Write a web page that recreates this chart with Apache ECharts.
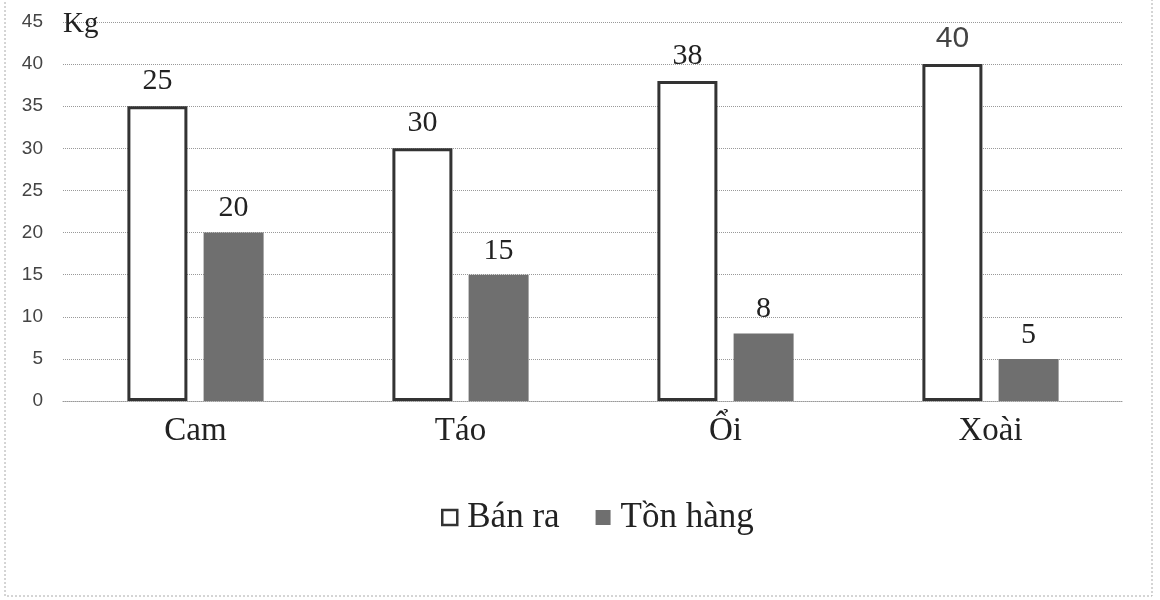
<!DOCTYPE html>
<html>
<head>
<meta charset="utf-8">
<script src="https://cdn.jsdelivr.net/npm/echarts@6/dist/echarts.min.js"></script>
<style>
  html, body { margin: 0; padding: 0; background: #fff; }
  #chart { width: 1160px; height: 600px; }
</style>
</head>
<body>
<div id="chart"></div>
<script>
// data
var categories = ['Cam', 'Táo', 'Ổi', 'Xoài'];
var banRa = [35, 30, 38, 40];           // bar heights as drawn
var banRaLabels = ['25', '30', '38', '40']; // numbers printed above them
var tonHang = [20, 15, 8, 5];
var yTicks = [0, 5, 10, 15, 20, 25, 30, 35, 40, 45];

var serif = '"Liberation Serif", "DejaVu Serif", serif';
var sans = '"Liberation Sans", Arial, sans-serif';

var chartDom = document.getElementById('chart');
var myChart = echarts.init(chartDom);

var option = {
  animation: false,
  backgroundColor: '#fff',
  grid: { left: 63, right: 37, top: 22, bottom: 199 },
  legend: {
    top: 495,
    left: 436,
    itemWidth: 15,
    itemHeight: 15,
    itemGap: 36,
    icon: 'rect',
    textStyle: { fontFamily: serif, fontSize: 35, color: '#222', padding: [0, 0, 0, 5] },
    data: [
      { name: 'Bán ra', itemStyle: { borderWidth: 2.5 } },
      { name: 'Tồn hàng', itemStyle: { borderWidth: 0 } }
    ]
  },
  xAxis: {
    type: 'category',
    data: categories,
    axisTick: { show: false },
    axisLine: { show: true, lineStyle: { color: '#999', type: 'dotted', width: 1 } },
    axisLabel: { fontFamily: serif, fontSize: 33, color: '#222', margin: 14 }
  },
  yAxis: {
    type: 'value',
    min: yTicks[0],
    max: yTicks[yTicks.length - 1],
    interval: yTicks[1] - yTicks[0],
    name: 'Kg',
    nameLocation: 'end',
    nameGap: -2,
    nameTextStyle: { fontFamily: serif, fontSize: 29, color: '#222', align: 'left', verticalAlign: 'middle' },
    axisLine: { show: false },
    axisTick: { show: false },
    axisLabel: { fontFamily: sans, fontSize: 19, color: '#444', margin: 20 },
    splitLine: { lineStyle: { color: '#999', type: 'dotted', width: 1 } }
  },
  series: [
    {
      name: 'Bán ra',
      type: 'bar',
      barWidth: 60,
      barGap: '27%',
      data: banRa.map(function (v, i) {
        return i === 3 ? { value: v, label: { fontFamily: sans, color: '#444' } } : v;
      }),
      itemStyle: { color: '#fff', borderColor: '#333', borderWidth: 3 },
      label: {
        show: true,
        position: 'top',
        distance: 10,
        fontFamily: serif,
        fontSize: 30,
        color: '#222',
        formatter: function (p) { return banRaLabels[p.dataIndex]; }
      }
    },
    {
      name: 'Tồn hàng',
      type: 'bar',
      barWidth: 60,
      data: tonHang,
      itemStyle: { color: '#6f6f6f' },
      label: {
        show: true,
        position: 'top',
        distance: 9,
        fontFamily: serif,
        fontSize: 30,
        color: '#222'
      }
    }
  ],
  graphic: [
    {
      type: 'rect',
      silent: true,
      shape: { x: 5, y: -2, width: 1147, height: 598 },
      style: { fill: 'none', stroke: '#aaa', lineWidth: 1, lineDash: [2, 2] }
    }
  ]
};

myChart.setOption(option);
</script>
</body>
</html>
